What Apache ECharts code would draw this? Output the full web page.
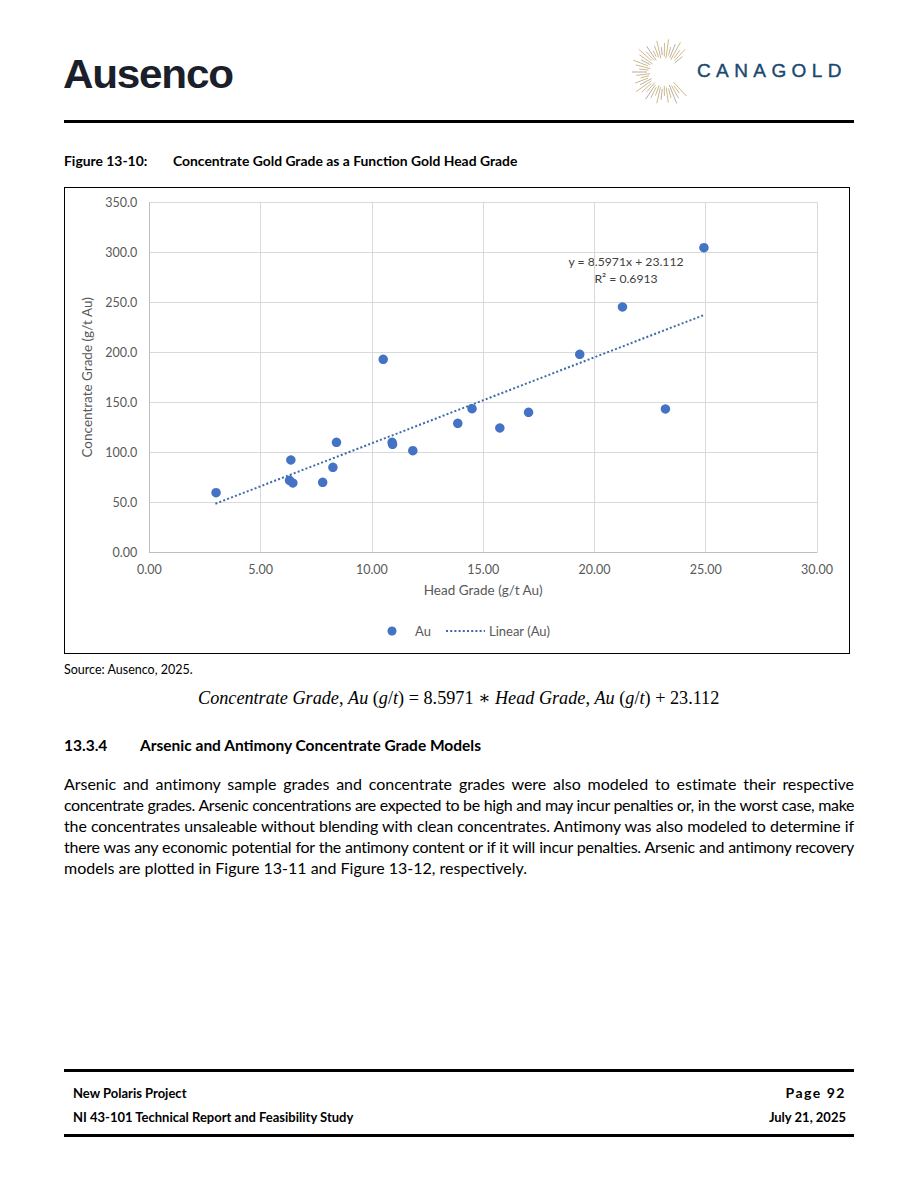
<!DOCTYPE html>
<html>
<head>
<meta charset="utf-8">
<script src="https://cdn.jsdelivr.net/npm/echarts@6/dist/echarts.min.js"></script>
<style>
html,body{margin:0;padding:0;background:#fff;}
body{width:918px;height:1188px;position:relative;overflow:hidden;font-family:Lato,"Liberation Sans",sans-serif;color:#000;}
.abs{position:absolute;white-space:nowrap;}
.rule{position:absolute;background:#000;}
#chartBox{position:absolute;left:64px;top:187px;width:784px;height:465px;border:1px solid #000;}
#chart{position:absolute;left:65px;top:188px;width:784px;height:465px;}
.para{position:absolute;left:64px;width:790px;font-size:16px;line-height:21px;}
.para div{text-align:justify;text-align-last:justify;white-space:nowrap;}
.para div.last{text-align-last:left;}
</style>
</head>
<body>
<!-- Header -->
<div class="abs" style="left:63px;top:51px;font-family:'Liberation Sans','DejaVu Sans',sans-serif;font-weight:bold;font-size:41px;letter-spacing:-1.2px;color:#1b1e2b;transform:scaleX(1.03);transform-origin:left;">Ausenco</div>
<svg class="abs" style="left:628px;top:36px;" width="72" height="72" viewBox="0 0 72 72" id="sun"></svg>
<div class="abs" style="left:697px;top:60px;font-family:'Liberation Sans','DejaVu Sans',sans-serif;font-size:19px;letter-spacing:5.4px;color:#1a4870;-webkit-text-stroke:0.4px #1a4870;">CANAGOLD</div>
<div class="rule" style="left:64px;top:120px;width:790px;height:3px;"></div>

<div class="abs" style="left:64px;top:152px;font-size:13.9px;font-weight:bold;">Figure 13-10:</div>
<div class="abs" style="left:173px;top:152px;font-size:13.9px;font-weight:bold;">Concentrate Gold Grade as a Function Gold Head Grade</div>

<div id="chartBox"></div>
<div id="chart"></div>

<div class="abs" style="left:64px;top:662px;font-size:12.5px;">Source: Ausenco, 2025.</div>
<div class="abs" style="left:198px;top:687px;font-family:'Liberation Serif','DejaVu Serif',serif;font-size:18.2px;"><i>Concentrate Grade</i>, <i>Au</i> (<i>g</i>/<i>t</i>) = 8.5971 ∗ <i>Head Grade</i>, <i>Au</i> (<i>g</i>/<i>t</i>) + 23.112</div>

<div class="abs" style="left:64px;top:736px;font-size:15.5px;font-weight:bold;">13.3.4</div>
<div class="abs" style="left:140px;top:736px;font-size:15.5px;font-weight:bold;">Arsenic and Antimony Concentrate Grade Models</div>

<div class="para" id="para" style="top:773px;">
<div>Arsenic and antimony sample grades and concentrate grades were also modeled to estimate their respective</div>
<div>concentrate grades. Arsenic concentrations are expected to be high and may incur penalties or, in the worst case, make</div>
<div>the concentrates unsaleable without blending with clean concentrates. Antimony was also modeled to determine if</div>
<div>there was any economic potential for the antimony content or if it will incur penalties. Arsenic and antimony recovery</div>
<div class="last">models are plotted in Figure 13-11 and Figure 13-12, respectively.</div>
</div>

<!-- Footer -->
<div class="rule" style="left:64px;top:1069px;width:790px;height:3px;"></div>
<div class="abs" style="left:73px;top:1085px;font-size:13px;font-weight:bold;">New Polaris Project</div>
<div class="abs" style="left:73px;top:1109px;font-size:13px;font-weight:bold;">NI 43-101 Technical Report and Feasibility Study</div>
<div class="abs" style="right:72px;top:1084px;font-size:14px;font-weight:bold;letter-spacing:1.5px;">Page 92</div>
<div class="abs" style="right:72px;top:1109px;font-size:13px;font-weight:bold;">July 21, 2025</div>
<div class="rule" style="left:64px;top:1134px;width:790px;height:3px;"></div>

<script>
// ---- Data ----
const headGrade = [3.00, 6.30, 6.36, 6.45, 7.79, 8.25, 8.41, 10.51, 10.91, 10.93, 11.84, 13.86, 14.50, 15.75, 17.04, 19.34, 21.26, 23.19, 24.92];
const concGrade = [59.6, 72.0, 92.3, 69.3, 70.0, 85.0, 110.0, 193.0, 110.0, 108.0, 101.6, 129.0, 143.6, 124.3, 140.0, 198.0, 245.3, 143.3, 304.6];
const trendX = [2.97, 24.92];
const trendY = [48.6, 237.3];
const seriesNames = ['Au', 'Linear (Au)'];
const trendLabel = ['y = 8.5971x + 23.112', 'R² = 0.6913'];
const xTicks = [0, 30, 5];
const yTicks = [0, 350, 50];
const axisTitles = ['Head Grade (g/t Au)', 'Concentrate Grade (g/t Au)'];

// ---- fit paragraph lines into the text width ----
(function(){
  const W = 790;
  document.querySelectorAll('#para div').forEach(d => {
    const span = document.createElement('span');
    span.textContent = d.textContent;
    span.style.whiteSpace = 'nowrap';
    d.textContent = '';
    d.appendChild(span);
    const w = span.getBoundingClientRect().width;
    if (w > W - 4) {
      const n = span.textContent.length;
      d.style.letterSpacing = ((W - 4 - w) / n) + 'px';
    }
    d.textContent = span.textContent;
  });
})();

// ---- sunburst logo (decorative) ----
(function(){
  const svg = document.getElementById('sun');
  const cx = 36, cy = 36;
  let s = '';
  for (let i = 0; i < 40; i++) {
    const a = (40 + i * 7) * Math.PI / 180;
    const r1 = 14 + (i % 3) * 1.5;
    const r2 = 24 + ((i * 7) % 11);
    const col = (i % 4 === 0) ? '#9a9a9a' : '#c2a66b';
    s += `<line x1="${cx + r1*Math.cos(a)}" y1="${cy - r1*Math.sin(a)}" x2="${cx + r2*Math.cos(a)}" y2="${cy - r2*Math.sin(a)}" stroke="${col}" stroke-width="0.8"/>`;
  }
  svg.innerHTML = s;
})();

const chart = echarts.init(document.getElementById('chart'), null, {renderer: 'svg'});
const font = 'Lato,"Liberation Sans",sans-serif';
const blue = '#4472c4';
const gridLeft = 84.3, gridTop = 14.3;

chart.setOption({
  animation: false,
  textStyle: {fontFamily: font},
  grid: {left: gridLeft, top: gridTop, width: 667.7, height: 350},
  xAxis: {
    type: 'value', min: xTicks[0], max: xTicks[1], interval: xTicks[2],
    name: axisTitles[0], nameLocation: 'middle', nameGap: 31,
    nameTextStyle: {fontFamily: font, fontSize: 13.5, color: '#595959'},
    axisLine: {show: true, lineStyle: {color: '#bfbfbf', width: 1}},
    axisTick: {show: false},
    axisLabel: {fontFamily: font, fontSize: 12.5, color: '#595959', margin: 11, formatter: v => v.toFixed(2)},
    splitLine: {show: true, lineStyle: {color: '#d9d9d9', width: 1}}
  },
  yAxis: {
    type: 'value', min: yTicks[0], max: yTicks[1], interval: yTicks[2],
    name: axisTitles[1], nameLocation: 'middle', nameGap: 49,
    nameTextStyle: {fontFamily: font, fontSize: 13.5, color: '#595959'},
    axisLine: {show: true, lineStyle: {color: '#bfbfbf', width: 1}},
    axisTick: {show: false},
    axisLabel: {fontFamily: font, fontSize: 12.5, color: '#595959', margin: 12, formatter: v => v === 0 ? '0.00' : v.toFixed(1)},
    splitLine: {show: true, lineStyle: {color: '#d9d9d9', width: 1}}
  },
  series: [
    {
      name: seriesNames[0], type: 'scatter', symbol: 'circle', symbolSize: 9.5,
      itemStyle: {color: blue, opacity: 1},
      data: headGrade.map((x, i) => [x, concGrade[i]]),
      z: 3
    },
    {
      name: seriesNames[1], type: 'line', symbol: 'none',
      lineStyle: {color: '#3e6aa8', width: 2, type: [2, 2.2]},
      data: trendX.map((x, i) => [x, trendY[i]]),
      z: 2
    }
  ],
  graphic: [
    {type: 'text', x: 561, y: 67, style: {text: trendLabel[0], fill: '#404040', font: '12.2px ' + font, textAlign: 'center'}},
    {type: 'text', x: 561, y: 84, style: {text: trendLabel[1], fill: '#404040', font: '12.2px ' + font, textAlign: 'center'}},
    // legend
    {type: 'circle', shape: {cx: 327, cy: 443, r: 4.5}, style: {fill: blue}},
    {type: 'text', x: 350, y: 436, style: {text: seriesNames[0], fill: '#595959', font: '13px ' + font}},
    {type: 'line', shape: {x1: 381, y1: 443, x2: 420, y2: 443}, style: {stroke: '#3e6aa8', lineWidth: 2, lineDash: [2, 2.2]}},
    {type: 'text', x: 424, y: 436, style: {text: seriesNames[1], fill: '#595959', font: '13px ' + font}}
  ]
});
</script>
</body>
</html>
